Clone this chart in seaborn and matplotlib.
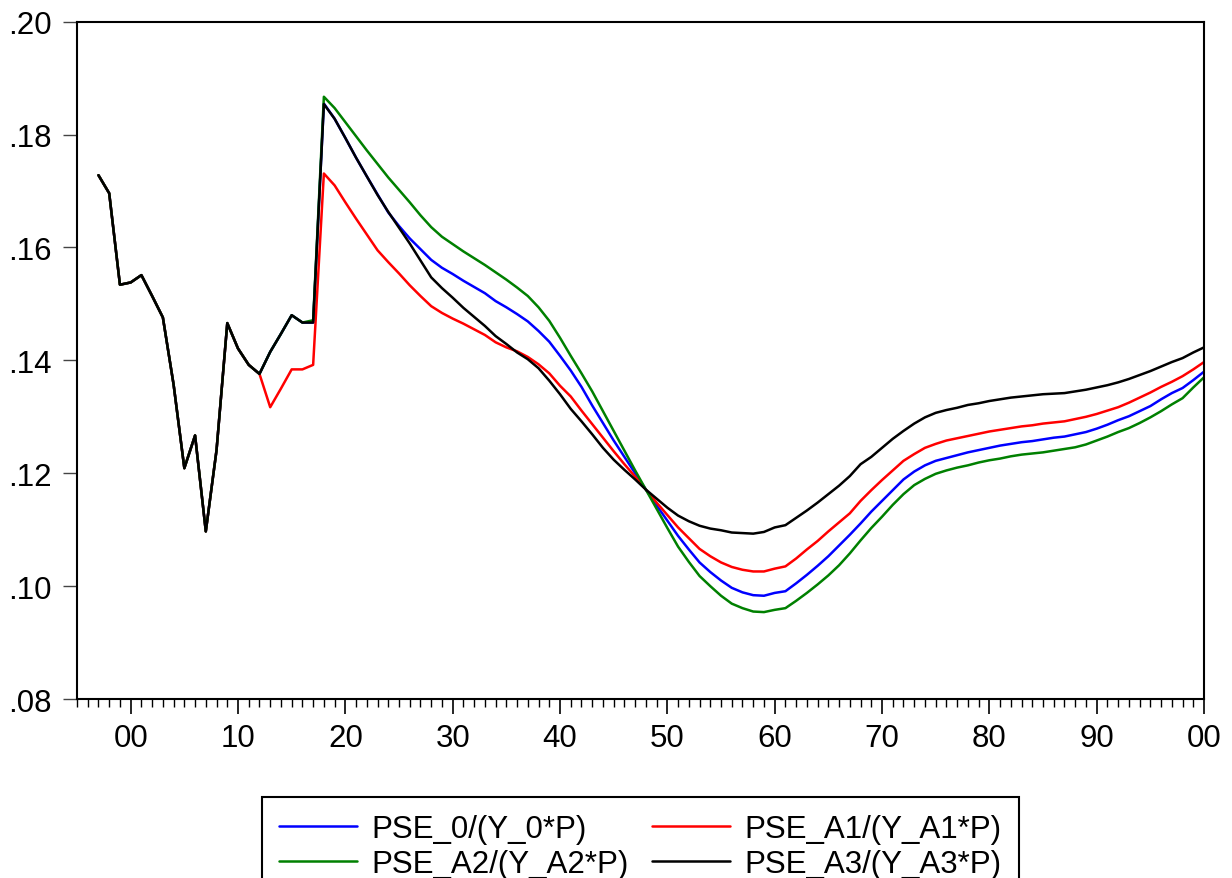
import numpy as np
import pandas as pd
import matplotlib
matplotlib.use("Agg")
import matplotlib.pyplot as plt
import seaborn as sns
from matplotlib.ticker import FixedLocator, FuncFormatter, MultipleLocator

years = list(range(1997, 2101))

hist_common = [0.1728, 0.1696, 0.1534, 0.1538, 0.1551, 0.1514, 0.1476, 0.1357, 0.1209, 0.1267,
               0.1097, 0.1241, 0.1466, 0.1421, 0.1392, 0.1376]  # 1997-2012

pse_0 = hist_common + [
    0.1415, 0.1447, 0.1480, 0.1467, 0.1467,
    0.1855, 0.1828, 0.1794, 0.1759, 0.1726, 0.1694, 0.1662, 0.1638, 0.1616, 0.1597,
    0.1578, 0.1564, 0.1553, 0.1541, 0.1530, 0.1519, 0.1505, 0.1494, 0.1482, 0.1469,
    0.1452, 0.1433, 0.1408, 0.1382, 0.1353, 0.1320, 0.1289, 0.1258, 0.1229, 0.1200,
    0.1171, 0.1143, 0.1116, 0.1089, 0.1065, 0.1042, 0.1025, 0.1010, 0.0997, 0.0989,
    0.0984, 0.0983, 0.0988, 0.0991, 0.1005, 0.1020, 0.1036, 0.1053, 0.1072, 0.1091,
    0.1111, 0.1132, 0.1151, 0.1170, 0.1189, 0.1203, 0.1214, 0.1222, 0.1227, 0.1232,
    0.1237, 0.1241, 0.1245, 0.1249, 0.1252, 0.1255, 0.1257, 0.1260, 0.1263, 0.1265,
    0.1269, 0.1273, 0.1279, 0.1286, 0.1294, 0.1301, 0.1310, 0.1319, 0.1331, 0.1342,
    0.1351, 0.1365, 0.1380]

pse_a1 = hist_common + [
    0.1317, 0.1350, 0.1384, 0.1384, 0.1392,
    0.1731, 0.1710, 0.1680, 0.1651, 0.1623, 0.1595, 0.1574, 0.1554, 0.1533, 0.1514,
    0.1496, 0.1484, 0.1474, 0.1465, 0.1455, 0.1445, 0.1432, 0.1423, 0.1416, 0.1406,
    0.1393, 0.1377, 0.1355, 0.1336, 0.1311, 0.1287, 0.1263, 0.1239, 0.1216, 0.1194,
    0.1171, 0.1148, 0.1126, 0.1104, 0.1085, 0.1066, 0.1053, 0.1042, 0.1034, 0.1029,
    0.1026, 0.1026, 0.1031, 0.1035, 0.1049, 0.1065, 0.1080, 0.1097, 0.1113, 0.1129,
    0.1151, 0.1170, 0.1188, 0.1205, 0.1222, 0.1234, 0.1245, 0.1252, 0.1258, 0.1262,
    0.1266, 0.1270, 0.1274, 0.1277, 0.1280, 0.1283, 0.1285, 0.1288, 0.1290, 0.1292,
    0.1296, 0.1300, 0.1305, 0.1311, 0.1317, 0.1325, 0.1334, 0.1343, 0.1353, 0.1362,
    0.1372, 0.1384, 0.1397]

pse_a2 = hist_common + [
    0.1415, 0.1447, 0.1480, 0.1467, 0.1471,
    0.1867, 0.1847, 0.1822, 0.1797, 0.1772, 0.1748, 0.1724, 0.1702, 0.1680, 0.1657,
    0.1636, 0.1619, 0.1606, 0.1593, 0.1581, 0.1569, 0.1556, 0.1543, 0.1529, 0.1514,
    0.1494, 0.1470, 0.1440, 0.1408, 0.1377, 0.1345, 0.1310, 0.1275, 0.1240, 0.1205,
    0.1171, 0.1137, 0.1103, 0.1070, 0.1043, 0.1018, 0.1000, 0.0983, 0.0969, 0.0961,
    0.0955, 0.0954, 0.0958, 0.0961, 0.0974, 0.0988, 0.1003, 0.1019, 0.1037, 0.1058,
    0.1081, 0.1103, 0.1123, 0.1144, 0.1163, 0.1179, 0.1190, 0.1199, 0.1205, 0.1210,
    0.1214, 0.1219, 0.1223, 0.1226, 0.1230, 0.1233, 0.1235, 0.1237, 0.1240, 0.1243,
    0.1246, 0.1251, 0.1258, 0.1265, 0.1273, 0.1280, 0.1289, 0.1299, 0.1310, 0.1322,
    0.1333, 0.1352, 0.1370]

pse_a3 = hist_common + [
    0.1415, 0.1447, 0.1480, 0.1467, 0.1467,
    0.1854, 0.1828, 0.1794, 0.1759, 0.1726, 0.1693, 0.1663, 0.1635, 0.1607, 0.1577,
    0.1547, 0.1528, 0.1511, 0.1493, 0.1477, 0.1461, 0.1443, 0.1429, 0.1414, 0.1402,
    0.1386, 0.1364, 0.1340, 0.1314, 0.1292, 0.1269, 0.1245, 0.1224, 0.1206, 0.1189,
    0.1171, 0.1155, 0.1139, 0.1125, 0.1115, 0.1107, 0.1102, 0.1099, 0.1095, 0.1094,
    0.1093, 0.1096, 0.1104, 0.1108, 0.1121, 0.1134, 0.1148, 0.1163, 0.1178, 0.1195,
    0.1216, 0.1229, 0.1245, 0.1261, 0.1275, 0.1288, 0.1299, 0.1307, 0.1312, 0.1316,
    0.1321, 0.1324, 0.1328, 0.1331, 0.1334, 0.1336, 0.1338, 0.1340, 0.1341, 0.1342,
    0.1345, 0.1348, 0.1352, 0.1356, 0.1361, 0.1367, 0.1374, 0.1381, 0.1389, 0.1397,
    0.1404, 0.1414, 0.1423]

labels = ["PSE_0/(Y_0*P)", "PSE_A1/(Y_A1*P)", "PSE_A2/(Y_A2*P)", "PSE_A3/(Y_A3*P)"]
colors = ["#0000FF", "#FF0000", "#008000", "#000000"]
series = [pse_0, pse_a1, pse_a2, pse_a3]

y_ticks = [0.08, 0.10, 0.12, 0.14, 0.16, 0.18, 0.20]
x_ticks = list(range(2000, 2101, 10))

sns.set_style("white")
plt.rcParams["font.family"] = ["Liberation Sans", "DejaVu Sans"]
plt.rcParams["text.color"] = "black"

fig = plt.figure(figsize=(12.32, 8.79), dpi=100)
ax = fig.add_axes([0.0625, 0.2036, 0.9148, 0.7706])

df = pd.DataFrame({"year": years})
for lab, vals in zip(labels, series):
    df[lab] = vals

for lab, col in zip(labels, colors):
    sns.lineplot(data=df, x="year", y=lab, color=col, linewidth=1.8, ax=ax, label=lab, legend=False)

ax.set_xlim(1995, 2100)
ax.set_ylim(0.08, 0.20)
ax.set_xlabel("")
ax.set_ylabel("")

ax.xaxis.set_major_locator(FixedLocator(x_ticks))
ax.xaxis.set_minor_locator(MultipleLocator(1))
ax.xaxis.set_major_formatter(FuncFormatter(lambda v, p: f"{int(round(v)) % 100:02d}"))
ax.yaxis.set_major_locator(FixedLocator(y_ticks))
ax.yaxis.set_major_formatter(FuncFormatter(lambda v, p: f"{v:.2f}".lstrip("0")))

ax.tick_params(axis="x", which="major", direction="out", length=11, width=1.2, pad=6,
               labelsize=22.5, bottom=True, color="black", labelcolor="black")
ax.tick_params(axis="x", which="minor", direction="out", length=6, width=1.0, bottom=True, color="black")
ax.tick_params(axis="y", which="major", direction="out", length=10, width=1.0, pad=8,
               labelsize=22.5, left=True, color="#444444", labelcolor="black")

for s in ax.spines.values():
    s.set_visible(True)
    s.set_color("black")
    s.set_linewidth(1.5)

handles = ax.get_lines()
order = [0, 2, 1, 3]
leg = fig.legend([handles[i] for i in order], [labels[i] for i in order],
                 loc="upper left", bbox_to_anchor=(262 / 1232, 1 - 798 / 879),
                 bbox_transform=fig.transFigure, ncol=2, fontsize=22.5,
                 frameon=True, fancybox=False, shadow=False, framealpha=1,
                 borderaxespad=0, borderpad=0.55, handlelength=2.5, handletextpad=0.45,
                 columnspacing=0.75, labelspacing=0.15)
leg.get_frame().set_edgecolor("black")
leg.get_frame().set_linewidth(1.5)
for t in leg.get_texts():
    t.set_color("black")

fig.savefig("out.png", dpi=100)
